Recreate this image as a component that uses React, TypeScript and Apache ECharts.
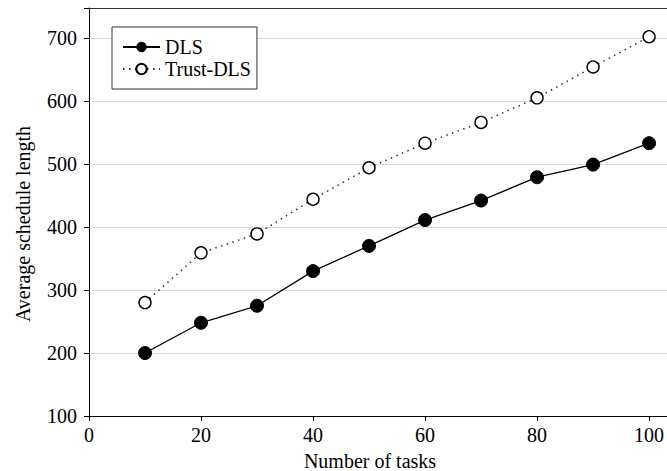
import React, { useEffect, useRef } from "react";
import * as echarts from "echarts";

const tasks = [10, 20, 30, 40, 50, 60, 70, 80, 90, 100];
const dls = [200, 248, 275, 330, 370, 411, 442, 479, 499, 533];
const trustDls = [280, 359, 389, 444, 494, 533, 566, 605, 654, 702];
const seriesNames = ["DLS", "Trust-DLS"];

const FONT = "Liberation Serif";
const FS = 20;

export default function App() {
  const ref = useRef<HTMLDivElement>(null);
  useEffect(() => {
    if (!ref.current) return;
    const chart = echarts.init(ref.current, null, { renderer: "svg" });
    chart.setOption({
      animation: false,
      backgroundColor: "#ffffff",
      textStyle: { fontFamily: FONT, color: "#000" },
      grid: { left: 89, right: 0, top: 8, bottom: 55, containLabel: false, outerBoundsMode: "none" },
      legend: {
        left: 112,
        top: 27,
        orient: "vertical",
        data: seriesNames,
        backgroundColor: "#fff",
        borderColor: "#333",
        borderWidth: 1,
        padding: [10, 6, 10, 10],
        itemGap: 2,
        itemWidth: 37,
        itemHeight: 13,
        textStyle: { fontFamily: FONT, fontSize: FS, color: "#000", padding: [0, 0, 0, 0] },
      },
      xAxis: [
        {
          type: "value",
          min: 0,
          max: 103.2,
          interval: 20,
          name: "Number of tasks",
          nameLocation: "middle",
          nameGap: 35,
          nameTextStyle: { fontFamily: FONT, fontSize: FS, color: "#000", padding: [0, 16, 0, 0] },
          axisLine: { show: true, lineStyle: { color: "#000", width: 1 } },
          axisTick: { show: true, length: 5, lineStyle: { color: "#000" } },
          axisLabel: {
            fontFamily: FONT,
            fontSize: FS,
            color: "#000",
            margin: 9,
            formatter: (v: number) => (v % 20 === 0 ? String(v) : ""),
          },
          splitLine: { show: false },
        },
        {
          type: "value",
          position: "top",
          min: 0,
          max: 103.2,
          axisLine: { show: true, lineStyle: { color: "#333", width: 1 } },
          axisTick: { show: false },
          axisLabel: { show: false },
          splitLine: { show: false },
        },
      ],
      yAxis: {
        type: "value",
        min: 100,
        max: 747.6,
        interval: 100,
        name: "Average schedule length",
        nameLocation: "middle",
        nameGap: 56,
        nameTextStyle: { fontFamily: FONT, fontSize: FS, color: "#000", padding: [0, 24, 0, 0] },
        axisLine: { show: true, lineStyle: { color: "#000", width: 1 } },
        axisTick: { show: true, length: 5, lineStyle: { color: "#000" } },
        axisLabel: {
          fontFamily: FONT,
          fontSize: FS,
          color: "#000",
          margin: 12,
          formatter: (v: number) => (v % 100 === 0 ? String(v) : ""),
        },
        splitLine: { show: true, lineStyle: { color: "#d9d9d9", width: 1 } },
      },
      series: [
        {
          name: seriesNames[0],
          type: "line",
          data: tasks.map((t, i) => [t, dls[i]]),
          symbol: "circle",
          symbolSize: 13,
          itemStyle: { color: "#000", borderColor: "#000" },
          lineStyle: { color: "#000", width: 1.3, type: "solid" },
        },
        {
          name: seriesNames[1],
          type: "line",
          data: tasks.map((t, i) => [t, trustDls[i]]),
          symbol: "circle",
          symbolSize: 12,
          itemStyle: { color: "#fff", borderColor: "#000", borderWidth: 1.4 },
          lineStyle: { color: "#333", width: 1.5, type: [1.5, 4.5] },
        },
      ],
    });
    return () => chart.dispose();
  }, []);
  return (
    <div
      ref={ref}
      style={{ position: "fixed", left: 0, top: 0, width: 667, height: 471 }}
    />
  );
}
